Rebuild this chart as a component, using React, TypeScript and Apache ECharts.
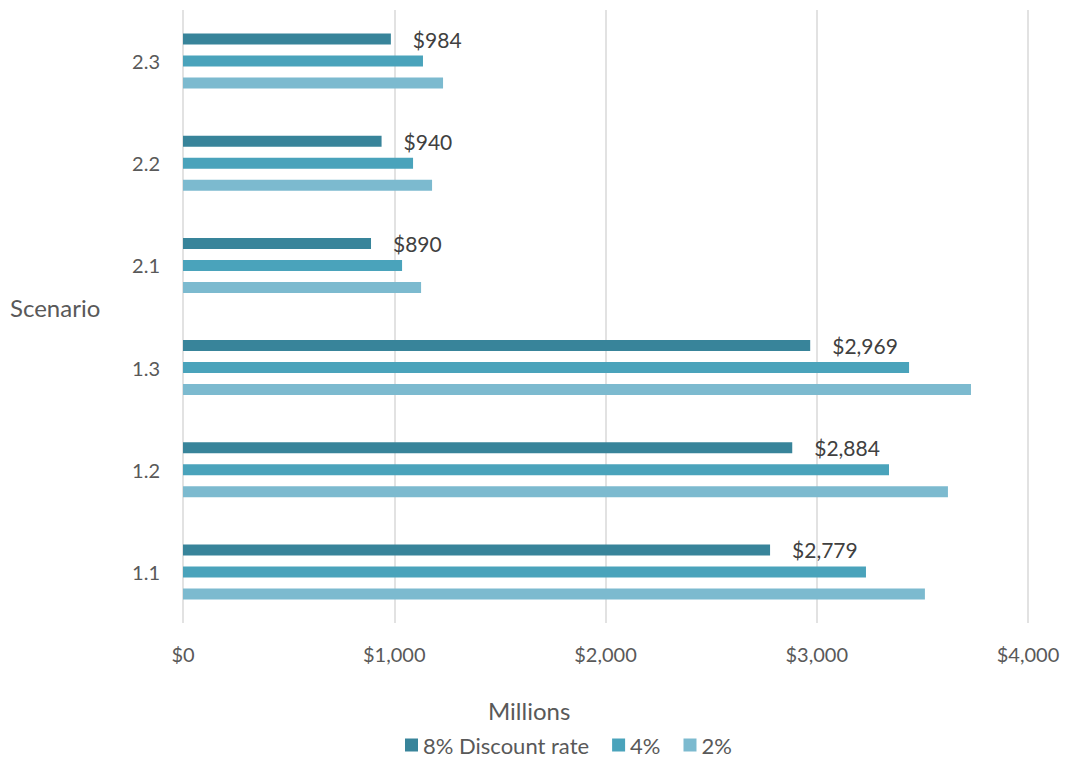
import React, { useEffect, useRef } from "react";
import * as echarts from "echarts";

const categories = ["1.1", "1.2", "1.3", "2.1", "2.2", "2.3"];
const rate8 = [2779, 2884, 2969, 890, 940, 984];
const rate4 = [3233, 3342, 3437, 1037, 1089, 1136];
const rate2 = [3512, 3621, 3730, 1127, 1179, 1231];
const xTicks = [0, 1000, 2000, 3000, 4000];
const seriesNames = ["8% Discount rate", "4%", "2%"];
const colors = ["#38849A", "#4AA3BB", "#7CBACF"];
const xTitle = "Millions";
const yTitle = "Scenario";

const FONT = "Lato, 'Open Sans', sans-serif";

function fmt(v: number) {
  return "$" + v.toLocaleString("en-US");
}

export default function App() {
  const ref = useRef<HTMLDivElement>(null);
  useEffect(() => {
    const chart = echarts.init(ref.current!, null, { renderer: "svg" });
    const mk = (name: string, data: number[], color: string, label: boolean) => ({
      name,
      type: "bar",
      data,
      barWidth: 11,
      barGap: "100%",
      itemStyle: { color },
      label: label
        ? {
            show: true,
            position: "right",
            distance: 22,
            formatter: (p: any) => fmt(p.value),
            fontFamily: FONT,
            fontSize: 21,
            color: "#404040",
          }
        : { show: false },
    });
    chart.setOption({
      animation: false,
      textStyle: { fontFamily: FONT },
      grid: { left: 183, right: 41, top: 10, bottom: 141, containLabel: false },
      legend: {
        data: seriesNames,
        bottom: 3,
        left: 400,
        itemWidth: 13,
        itemHeight: 13,
        itemGap: 23,
        icon: "rect",
        textStyle: { fontFamily: FONT, fontSize: 22, color: "#595959" },
      },
      graphic: [
        {
          type: "text",
          left: 488,
          top: 698,
          style: { text: xTitle, fontFamily: FONT, fontSize: 24, fill: "#595959" },
        },
        {
          type: "text",
          left: 10,
          top: 295,
          style: { text: yTitle, fontFamily: FONT, fontSize: 24, fill: "#595959" },
        },
      ],
      xAxis: {
        type: "value",
        min: xTicks[0],
        max: xTicks[xTicks.length - 1],
        interval: 1000,
        axisLine: { show: false },
        axisTick: { show: false },
        axisLabel: {
          formatter: (v: number) => fmt(v),
          fontFamily: FONT,
          fontSize: 20,
          color: "#595959",
          margin: 21,
        },
        splitLine: { show: true, lineStyle: { color: "#d9d9d9", width: 1.5 } },
      },
      yAxis: {
        type: "category",
        data: categories,
        axisLine: { show: false },
        axisTick: { show: false },
        axisLabel: { fontFamily: FONT, fontSize: 20, color: "#595959", margin: 23 },
      },
      series: [
        mk(seriesNames[0], rate8, colors[0], true),
        mk(seriesNames[1], rate4, colors[1], false),
        mk(seriesNames[2], rate2, colors[2], false),
      ],
    });
    return () => chart.dispose();
  }, []);
  return <div ref={ref} style={{ width: 1069, height: 764, margin: -8 }} />;
}
